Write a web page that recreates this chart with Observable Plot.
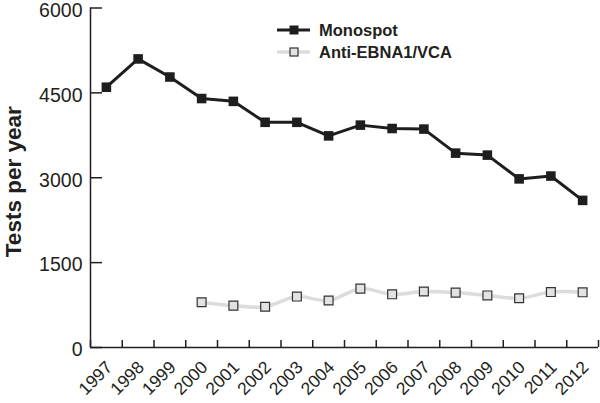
<!DOCTYPE html>
<html>
<head>
<meta charset="utf-8">
<script src="https://cdn.jsdelivr.net/npm/d3@7"></script>
<script src="https://cdn.jsdelivr.net/npm/@observablehq/plot@0.6"></script>
<style>
  html, body { margin: 0; padding: 0; background: #fff; }
  #wrap { position: relative; width: 600px; height: 403px; font-family: "Liberation Sans", Arial, Helvetica, sans-serif; color: #231f20; }
  #legend { position: absolute; left: 277px; top: 19px; }
  .row { display: flex; align-items: center; height: 22px; font-weight: bold; font-size: 16.5px; }
  .row svg { margin-right: 9px; }
</style>
</head>
<body>
<div id="wrap">
  <div id="chart"></div>
  <div id="legend"></div>
</div>
<script>
const years = [1997, 1998, 1999, 2000, 2001, 2002, 2003, 2004, 2005, 2006, 2007, 2008, 2009, 2010, 2011, 2012];
const monospot = [4600, 5100, 4780, 4400, 4350, 3980, 3980, 3740, 3930, 3870, 3860, 3435, 3400, 2980, 3030, 2600];
const antiYears = [2000, 2001, 2002, 2003, 2004, 2005, 2006, 2007, 2008, 2009, 2010, 2011, 2012];
const anti = [800, 740, 720, 900, 830, 1040, 940, 990, 970, 920, 870, 980, 975];
const yTicks = [0, 1500, 3000, 4500, 6000];
const seriesNames = ["Monospot", "Anti-EBNA1/VCA"];
const yTitle = "Tests per year";

const mono = years.map((y, i) => ({year: y, value: monospot[i]}));
const ant = antiYears.map((y, i) => ({year: y, value: anti[i]}));
const edges = [...years.map(y => y - 0.5), years[years.length - 1] + 0.5];

const ink = "#231f20";
const plot = Plot.plot({
  width: 600,
  height: 403,
  marginLeft: 90,
  marginRight: 2,
  marginTop: 7.5,
  marginBottom: 56,
  style: {fontFamily: "'Liberation Sans', Arial, Helvetica, sans-serif", color: ink, background: "#fff"},
  x: {domain: [edges[0], edges[edges.length - 1]]},
  y: {domain: [0, 6000]},
  marks: [
    Plot.axisY({ticks: yTicks, tickSize: -12, fill: "none", label: null, strokeWidth: 1.5}),
    Plot.axisY({ticks: yTicks, tickSize: 0, tickPadding: 8, dy: 2.5, label: null, fontSize: 19.5, tickFormat: d => String(d)}),
    Plot.axisX({ticks: edges, tickSize: -7, fill: "none", label: null, strokeWidth: 1.5}),
    Plot.axisX({ticks: years, tickSize: 0, tickPadding: 17, dx: 3, tickRotate: -45, textAnchor: "end", lineAnchor: "middle", label: null, fontSize: 17.5, tickFormat: d => String(d)}),
    Plot.ruleX([edges[0]], {stroke: ink, strokeWidth: 1.5}),
    Plot.ruleY([0], {stroke: ink, strokeWidth: 1.5}),
    Plot.text([yTitle], {frameAnchor: "left", textAnchor: "middle", dx: -70, dy: 4, rotate: -90, lineAnchor: "bottom", fontSize: 22.5, fontWeight: "bold", fill: ink}),
    Plot.line(ant, {x: "year", y: "value", stroke: "#dcdcdc", strokeWidth: 3.5, curve: "catmull-rom"}),
    Plot.dot(ant, {x: "year", y: "value", symbol: "square", r: 5, fill: "#e2e2e2", stroke: "#333", strokeWidth: 1.2}),
    Plot.line(mono, {x: "year", y: "value", stroke: "#1e1e1e", strokeWidth: 3}),
    Plot.dot(mono, {x: "year", y: "value", symbol: "square", r: 5.4, fill: "#1e1e1e", stroke: "none"})
  ]
});
document.getElementById("chart").append(plot);

const legend = document.getElementById("legend");
legend.innerHTML = `
  <div class="row"><svg width="33" height="12"><line x1="0" y1="6" x2="33" y2="6" stroke="#1e1e1e" stroke-width="3"/><rect x="12.5" y="1.5" width="9" height="9" fill="#1e1e1e"/></svg>${seriesNames[0]}</div>
  <div class="row"><svg width="33" height="12"><line x1="0" y1="6" x2="33" y2="6" stroke="#dcdcdc" stroke-width="3.5"/><rect x="13" y="2" width="8" height="8" fill="#e2e2e2" stroke="#333" stroke-width="1.2"/></svg>${seriesNames[1]}</div>
`;
</script>
</body>
</html>
